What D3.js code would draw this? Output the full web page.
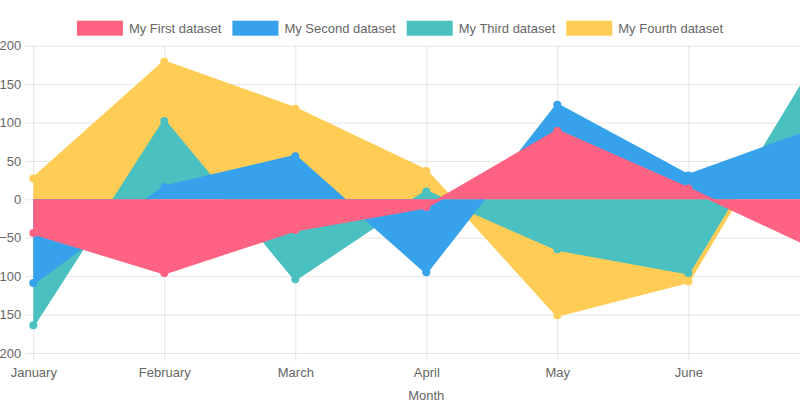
<!DOCTYPE html>
<html>
<head>
<meta charset="utf-8">
<script src="https://cdn.jsdelivr.net/npm/d3@7"></script>
<style>
  html, body { margin: 0; padding: 0; background: #fff; overflow: hidden; }
  svg { display: block; font-family: "Liberation Sans", Arial, Helvetica, sans-serif; }
</style>
</head>
<body>
<svg id="chart"></svg>
<script>
// chart data
var months = ["January", "February", "March", "April", "May", "June", "July"];
var firstData  = [-44, -96, -40, -10, 89, 14, -66];
var secondData = [-109, 16, 56, -95, 123, 31, 93];
var thirdData  = [-164, 102, -104, 10, -65, -96, 186];
var fourthData = [27, 179, 118, 37, -151, -107, 180];
var yTicks = [-200, -150, -100, -50, 0, 50, 100, 150, 200];

var datasets = [
    { label: "My First dataset",  values: firstData,  color: "rgb(255, 99, 132)" },
    { label: "My Second dataset", values: secondData, color: "rgb(54, 162, 235)" },
    { label: "My Third dataset",  values: thirdData,  color: "rgb(75, 192, 192)" },
    { label: "My Fourth dataset", values: fourthData, color: "rgb(255, 205, 86)" }
];

drawChart();

function drawChart() {
    const width = 800;
    const height = 419;
    // plot area runs past the right edge of the window, like the original
    const plotLeft = 33.3;
    const plotRight = 819.3;
    const plotTop = 45.7;
    const plotBottom = 352.9;
    const gridColor = "rgba(0,0,0,0.1)";
    const textColor = "#666";

    var svg = d3.select("#chart")
        .attr("width", width)
        .attr("height", height)
        .attr("viewBox", [0, 0, width, height]);

    const x = d3.scalePoint(months, [plotLeft, plotRight]);
    const y = d3.scaleLinear([-200, 200], [plotBottom, plotTop]);

    // y axis with grid lines
    svg.append("g")
        .attr("transform", `translate(${plotLeft},0)`)
        .call(d3.axisLeft(y).tickValues(yTicks).tickSize(8).tickPadding(4))
        .call(g => g.select(".domain").remove())
        .call(g => g.selectAll(".tick line").attr("stroke", gridColor))
        .call(g => g.selectAll(".tick line").clone()
            .attr("x1", 0)
            .attr("x2", plotRight - plotLeft)
            .attr("stroke", gridColor))
        .call(g => g.selectAll(".tick text")
            .attr("fill", textColor)
            .attr("font-size", 13)
            .attr("font-family", null));

    // x axis with grid lines
    svg.append("g")
        .attr("transform", `translate(0,${plotBottom})`)
        .call(d3.axisBottom(x).tickSize(8).tickPadding(7))
        .call(g => g.select(".domain").remove())
        .call(g => g.selectAll(".tick line").attr("stroke", gridColor))
        .call(g => g.selectAll(".tick line").clone()
            .attr("y1", 0)
            .attr("y2", plotTop - plotBottom)
            .attr("stroke", gridColor))
        .call(g => g.selectAll(".tick text")
            .attr("fill", textColor)
            .attr("font-size", 13)
            .attr("font-family", null));

    // axis title
    svg.append("text")
        .attr("x", (plotLeft + plotRight) / 2)
        .attr("y", 395)
        .attr("dy", "0.35em")
        .attr("text-anchor", "middle")
        .attr("fill", textColor)
        .attr("font-size", 13)
        .text("Month");

    const area = d3.area()
        .x((d, i) => x(months[i]))
        .y0(y(0))
        .y1(d => y(d));

    const line = d3.line()
        .x((d, i) => x(months[i]))
        .y(d => y(d));

    // first dataset ends up on top, so draw them backwards
    datasets.slice().reverse().forEach(function(ds) {
        var g = svg.append("g");
        g.append("path")
            .attr("fill", ds.color)
            .attr("d", area(ds.values));
        g.append("path")
            .attr("fill", "none")
            .attr("stroke", ds.color)
            .attr("stroke-width", 3)
            .attr("stroke-linejoin", "round")
            .attr("d", line(ds.values));
        g.selectAll("circle")
            .data(ds.values)
            .join("circle")
            .attr("cx", (d, i) => x(months[i]))
            .attr("cy", d => y(d))
            .attr("r", 4)
            .attr("fill", ds.color);
    });

    // legend, centred across the window
    var legend = svg.append("g");
    var items = legend.selectAll("g")
        .data(datasets)
        .join("g");
    items.append("rect")
        .attr("width", 46)
        .attr("height", 15)
        .attr("y", 20.7)
        .attr("fill", d => d.color);
    items.append("text")
        .attr("x", 52)
        .attr("y", 28.3)
        .attr("dy", "0.35em")
        .attr("fill", textColor)
        .attr("font-size", 13)
        .text(d => d.label);

    var widths = [];
    items.each(function() {
        widths.push(52 + d3.select(this).select("text").node().getComputedTextLength());
    });
    var gap = 11;
    var total = d3.sum(widths) + gap * (widths.length - 1);
    var cursor = 400 - total / 2;
    items.attr("transform", function(d, i) {
        var t = `translate(${cursor},0)`;
        cursor += widths[i] + gap;
        return t;
    });
}
</script>
</body>
</html>
